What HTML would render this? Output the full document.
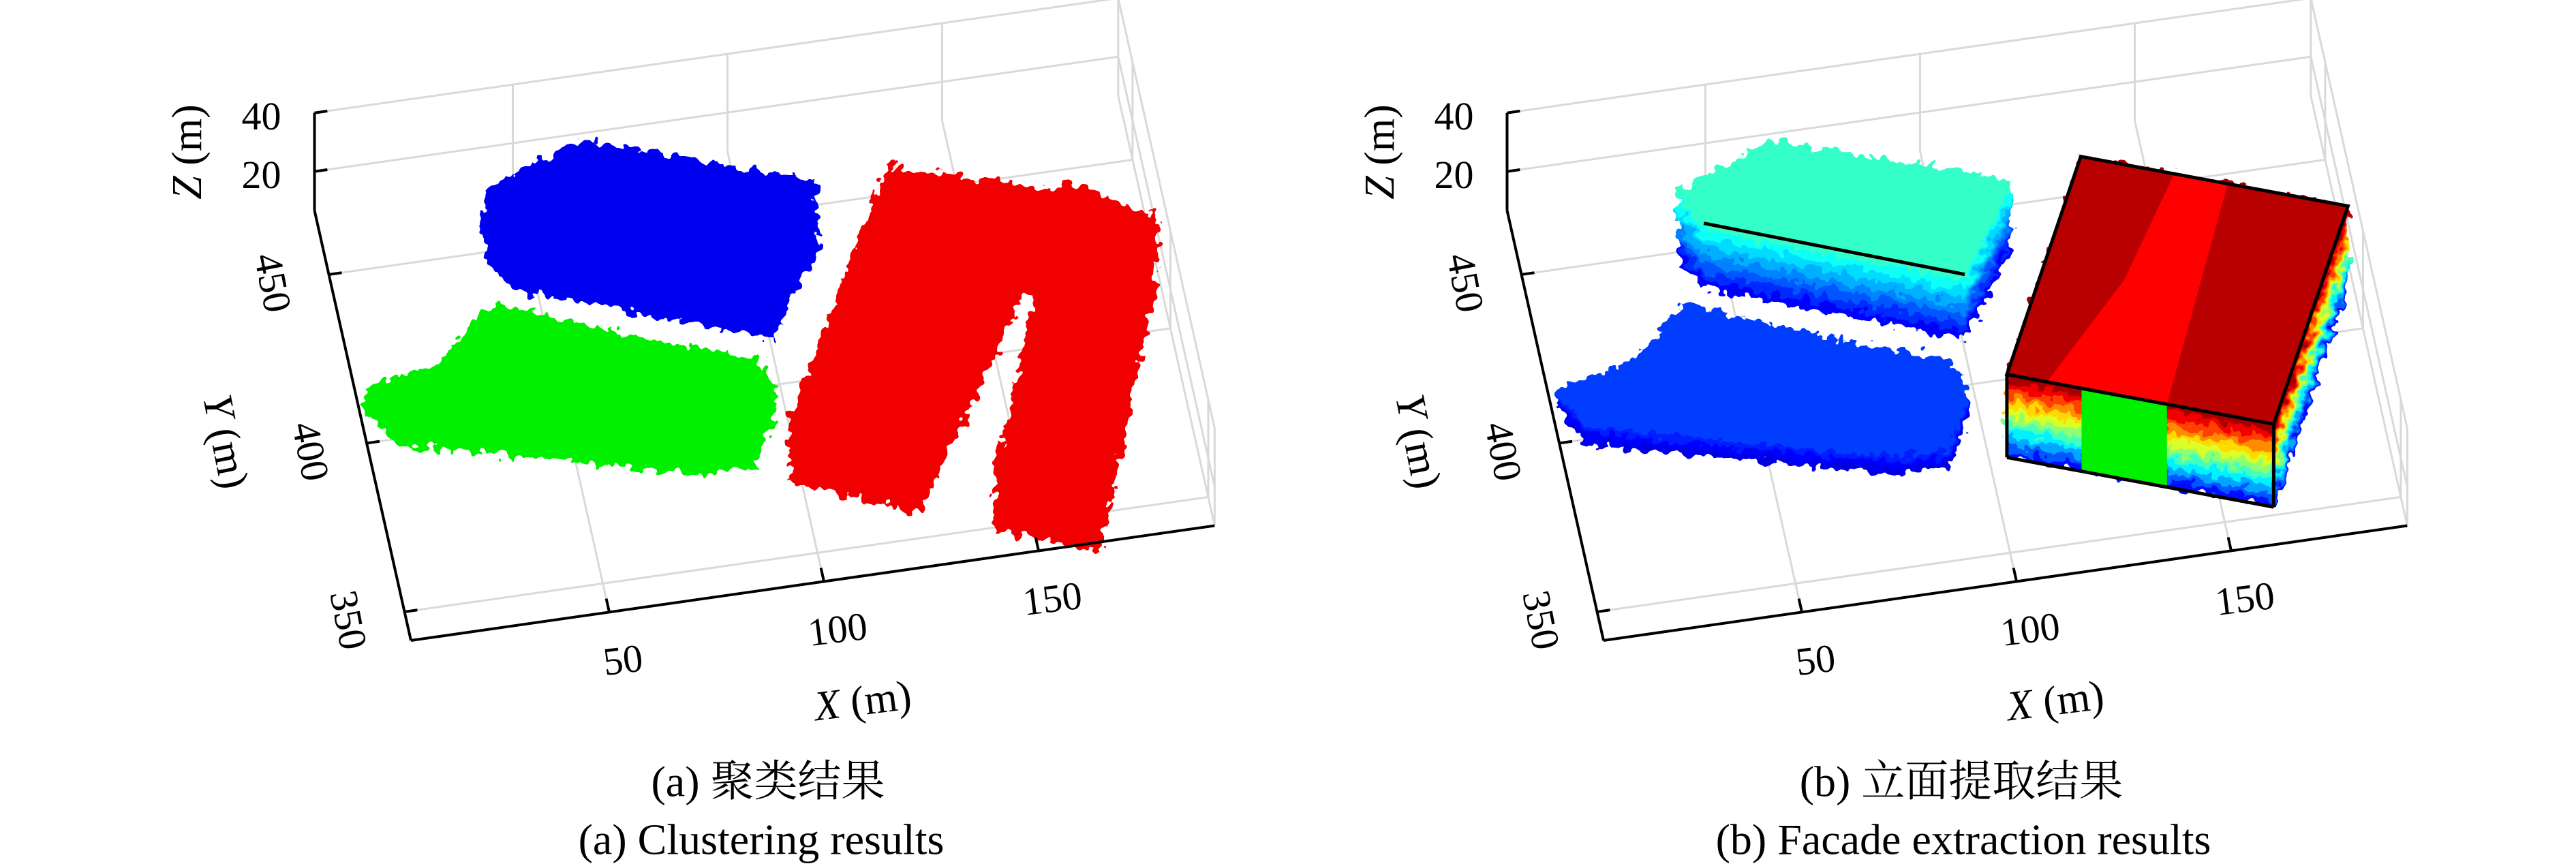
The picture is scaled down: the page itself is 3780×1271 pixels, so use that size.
<!DOCTYPE html>
<html><head><meta charset="utf-8"><style>
html,body{margin:0;padding:0;background:#fff}
svg{display:block}
svg text{font-family:"Liberation Serif","DejaVu Serif","Noto Serif CJK SC",serif;fill:#000}
</style></head><body>
<svg id="fig" width="3780" height="1271" viewBox="0 0 3780 1271" xmlns="http://www.w3.org/2000/svg" font-family="Liberation Serif, DejaVu Serif, Noto Serif CJK SC, serif">
<defs>
<filter id="rough" x="-15%" y="-15%" width="130%" height="130%">
<feTurbulence type="fractalNoise" baseFrequency="0.07" numOctaves="2" seed="4" result="n"/>
<feDisplacementMap in="SourceGraphic" in2="n" scale="30" xChannelSelector="R" yChannelSelector="G"/>
</filter>
</defs>
<g id="panelA"></g>
<g id="panelB"></g>
<text x="1127" y="1147" font-size="64" text-anchor="middle" dominant-baseline="central">(a) 聚类结果</text>
<text x="1117" y="1232" font-size="64" text-anchor="middle" dominant-baseline="central">(a) Clustering results</text>
<text x="2878" y="1147" font-size="64" text-anchor="middle" dominant-baseline="central">(b) 立面提取结果</text>
<text x="2881" y="1232" font-size="64" text-anchor="middle" dominant-baseline="central">(b) Facade extraction results</text>
</svg>
<script>
const xTicks=[50,100,150];
const yTicks=[350,400,450];
const zTicks=[20,40];
const xRange=[3.8,191];
const yRange=[341.5,469];
const zRange=[6.7,40];
// cluster footprints (X,Y in metres) and height ranges
const blueFoot=[[39.7,448.1],[44.2,438.2],[100.5,412.8],[115.5,437.4],[63.7,458.9]];
const blueZ=[7,30];
const greenFoot=[[5.0,409.0],[9.9,398.0],[77.1,377.3],[90.3,376.3],[97.6,391.1],[94.7,401.7],[73.2,410.3],[38.1,428.2],[22.3,412.9]];
const greenZ=[7,15];
const redAFoot=[[132.3,440.8],[165.9,426.2],[125.1,356.8],[97.0,371.0]];
const redBFoot=[[171.2,429.3],[190.5,414.4],[164.0,338.6],[141.0,348.9]];
const redCFoot=[[132.3,440.8],[178.7,422.4],[174.1,409.5],[127.8,426.0]];
const redZ=[7,28];
const boxFoot=[[132.5,441.1],[190.3,415.9],[162.5,356.3],[104.8,381.5]];
const boxZ=[2,30.3];

const NS="http://www.w3.org/2000/svg";
function mk(tag,attrs,parent){const e=document.createElementNS(NS,tag);for(const k in attrs)e.setAttribute(k,attrs[k]);parent.appendChild(e);return e;}
function proj(ox){return (X,Y,Z)=>[603+ox+6.3*(X-3.8)-1.11*(Y-341.5),940-0.9*(X-3.8)-4.95*(Y-341.5)-4.3*(Z-6.7)];}
function ptsStr(a){return a.map(p=>p[0].toFixed(1)+","+p[1].toFixed(1)).join(" ");}
function jet(t){const c=v=>Math.round(255*Math.max(0,Math.min(1,v)));return "rgb("+c(1.5-Math.abs(4*t-3))+","+c(1.5-Math.abs(4*t-2))+","+c(1.5-Math.abs(4*t-1))+")";}
function prism(g,P,foot,z0,z1,fill){
  const bot=foot.map(f=>P(f[0],f[1],z0)), top=foot.map(f=>P(f[0],f[1],z1));
  mk('polygon',{points:ptsStr(bot),fill:fill},g);
  for(let i=0;i<foot.length;i++){const j=(i+1)%foot.length;
    mk('polygon',{points:ptsStr([bot[i],bot[j],top[j],top[i]]),fill:fill},g);}
  mk('polygon',{points:ptsStr(top),fill:fill},g);
}
function layered(g,P,foot,z0,z1,t0,t1,n){
  for(let k=0;k<n;k++){const a=z0+(z1-z0)*k/n,b=z0+(z1-z0)*(k+1)/n;prism(g,P,foot,a,b,jet(t0+(t1-t0)*(k+0.5)/n));}
}
function axes(g,P){
  const [x0,x1]=xRange,[y0,y1]=yRange,[z0,z1]=zRange;
  const grid=mk('g',{stroke:"#d9d9d9","stroke-width":"3",fill:"none"},g);
  
  
  const L=(a,b,par)=>mk('line',{x1:a[0],y1:a[1],x2:b[0],y2:b[1]},par);
  xTicks.forEach(x=>{L(P(x,y0,z0),P(x,y1,z0),grid);L(P(x,y1,z0),P(x,y1,z1),grid);});
  yTicks.forEach(y=>{L(P(x0,y,z0),P(x1,y,z0),grid);L(P(x1,y,z0),P(x1,y,z1),grid);});
  zTicks.forEach(z=>{L(P(x0,y1,z),P(x1,y1,z),grid);L(P(x1,y0,z),P(x1,y1,z),grid);});
  L(P(x1,y0,z0),P(x1,y0,z1),grid);L(P(x1,y0,z0),P(x1,y1,z0),grid);L(P(x1,y1,z0),P(x1,y1,z1),grid);
  return ()=>{
    const ax=mk('g',{stroke:"#000","stroke-width":"4",fill:"none"},g);
    
    
    L(P(x0,y1,z0),P(x0,y1,z1),ax);L(P(x0,y0,z0),P(x0,y1,z0),ax);L(P(x0,y0,z0),P(x1,y0,z0),ax);
    zTicks.forEach(z=>{L(P(x0,y1,z),P(x0+3,y1,z),ax);const p=P(x0,y1,z);
      const t=mk('text',{x:p[0]-78,y:p[1]+5,"font-size":58,"text-anchor":"middle","dominant-baseline":"central"},g);t.textContent=z;
      
      });
    yTicks.forEach(y=>{L(P(x0,y,z0),P(x0+3,y,z0),ax);const p=P(x0,y,z0);const cx=p[0]-82,cy=p[1]+12;
      const t=mk('text',{x:cx,y:cy,"font-size":58,"text-anchor":"middle","dominant-baseline":"central",transform:"rotate(79 "+cx+" "+cy+")"},g);t.textContent=y;
      
      });
    xTicks.forEach(x=>{L(P(x,y0,z0),P(x,y0+4,z0),ax);const p=P(x,y0,z0);const cx=p[0]+20,cy=p[1]+70;
      const t=mk('text',{x:cx,y:cy,"font-size":58,"text-anchor":"middle","dominant-baseline":"central",transform:"rotate(-7 "+cx+" "+cy+")"},g);t.textContent=x;
      
      });
    const o=P(x0,y0,z0)[0]-603;
    const lab=(txt,cx,cy,rot,name)=>{const t=mk('text',{x:cx,y:cy,"font-size":62,"text-anchor":"middle","dominant-baseline":"central",transform:"rotate("+rot+" "+cx+" "+cy+")"},g);
      t.innerHTML='<tspan font-style="italic">'+txt+'</tspan> (m)';
      
      };
    lab('Z',275+o,223,-90,'z-axis-title');
    lab('Y',331+o,648,79,'y-axis-title');
    lab('X',1266+o,1029,-7,'x-axis-title');
  };
}
// Panel A
(function(){
  const g=document.getElementById('panelA');const P=proj(0);
  const fin=axes(g,P);
  const cl=mk('g',{filter:"url(#rough)"},g);
  
  
  const b=mk('g',{},cl);
  
  
  prism(b,P,blueFoot,blueZ[0],blueZ[1],"#0000f0");
  const gr=mk('g',{},cl);
  
  
  prism(gr,P,greenFoot,greenZ[0],greenZ[1],"#00f000");
  const r=mk('g',{},cl);
  
  
  prism(r,P,redAFoot,redZ[0],redZ[1],"#f00000");
  prism(r,P,redBFoot,redZ[0],redZ[1],"#f00000");
  prism(r,P,redCFoot,redZ[0],redZ[1],"#f00000");
  fin();
})();
// Panel B
(function(){
  const g=document.getElementById('panelB');const P=proj(1750);
  const fin=axes(g,P);
  const cl=mk('g',{filter:"url(#rough)"},g);
  
  
  layered(cl,P,blueFoot,blueZ[0],blueZ[1],0.1,0.45,8);
  layered(cl,P,greenFoot,greenZ[0],greenZ[1],0.08,0.2,4);
  layered(cl,P,boxFoot,boxZ[0],boxZ[1],0.1,1.0,12);
  const bx=mk('g',{},g);
  
  
  const [z0,z1]=boxZ;
  const T=boxFoot.map(f=>P(f[0],f[1],z1)),B=boxFoot.map(f=>P(f[0],f[1],z0));
  mk('polygon',{points:ptsStr(T),fill:"#b80000"},bx);
  const lerp=(a,b,t)=>[a[0]+(b[0]-a[0])*t,a[1]+(b[1]-a[1])*t];
  mk('polygon',{points:ptsStr([lerp(T[0],T[1],0.35),lerp(T[0],T[1],0.55),lerp(T[3],T[2],0.6),lerp(T[3],T[2],0.15),lerp(lerp(T[0],T[3],0.5),lerp(T[1],T[2],0.5),0.3)]),fill:"#ff0000"},bx);
  mk('polygon',{points:ptsStr([lerp(B[3],B[2],0.28),lerp(B[3],B[2],0.6),lerp(T[3],T[2],0.6),lerp(T[3],T[2],0.28)]),fill:"#00f000"},bx);
  const ed=mk('g',{stroke:"#000","stroke-width":"5",fill:"none"},bx);
  mk('polygon',{points:ptsStr(T)},ed);
  mk('line',{x1:T[3][0],y1:T[3][1],x2:B[3][0],y2:B[3][1]},ed);
  mk('line',{x1:T[2][0],y1:T[2][1],x2:B[2][0],y2:B[2][1]},ed);
  mk('line',{x1:B[3][0],y1:B[3][1],x2:B[2][0],y2:B[2][1]},ed);
  const bt=blueFoot.map(f=>P(f[0],f[1],blueZ[1]-3));
  mk('line',{x1:bt[1][0],y1:bt[1][1]-10,x2:bt[2][0],y2:bt[2][1]-10,stroke:"#000","stroke-width":"5"},g);
  fin();
})();
</script>
</body></html>
